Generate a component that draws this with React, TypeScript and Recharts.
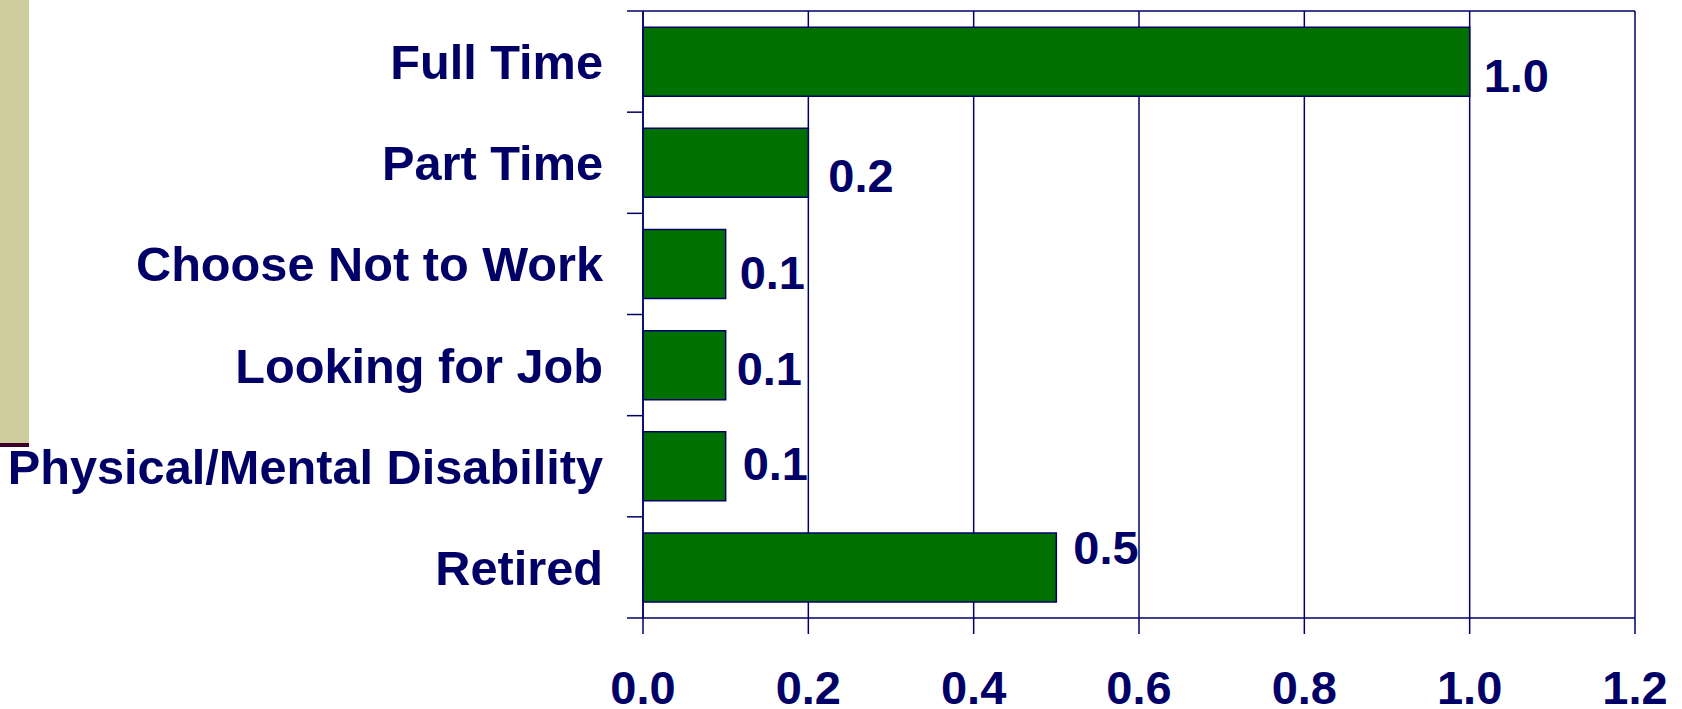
import { BarChart, Bar, XAxis, YAxis, CartesianGrid, LabelList } from "recharts";

const categories = [
  "Full Time",
  "Part Time",
  "Choose Not to Work",
  "Looking for Job",
  "Physical/Mental Disability",
  "Retired",
];
const values = [1.0, 0.2, 0.1, 0.1, 0.1, 0.5];
const xTicks = [0, 0.2, 0.4, 0.6, 0.8, 1.0, 1.2];

const data = categories.map((name, i) => ({ name, value: values[i] }));

// layout
const W = 1682;
const H = 709;
const M_TOP = 11;
const M_RIGHT = 47;
const Y_AXIS_W = 643;
const X_AXIS_H = 91;
const PLOT_W = W - Y_AXIS_W - M_RIGHT;
const PLOT_H = H - M_TOP - X_AXIS_H;
const HALF_BAND = PLOT_H / categories.length / 2;

const NAVY = "#000066";
const GREEN = "#007000";
const FONT = "'Liberation Sans', Arial, sans-serif";

// hand-placed value labels in the original drift a little per row
const LABEL_DX = [14, 20, 14, 11, 17, 17];
const LABEL_DY = [13, 12, 8, 3, -3, -20];

function CategoryTick(props: any) {
  const { x, y, payload, index } = props;
  const last = index === categories.length - 1;
  const fs = 48.7;
  return (
    <g>
      <text
        x={x - 40}
        y={y + fs * 0.358}
        textAnchor="end"
        fill={NAVY}
        fontSize={fs}
        fontWeight="bold"
        fontFamily={FONT}
      >
        {payload.value}
      </text>
      {index === 0 ? (
        <line x1={x - 16} x2={x + PLOT_W} y1={y - HALF_BAND} y2={y - HALF_BAND} stroke={NAVY} strokeWidth={1.5} />
      ) : (
        <line x1={x - 16} x2={x} y1={y - HALF_BAND} y2={y - HALF_BAND} stroke={NAVY} strokeWidth={1.5} />
      )}
      {last && (
        <line x1={x - 16} x2={x} y1={y + HALF_BAND} y2={y + HALF_BAND} stroke={NAVY} strokeWidth={1.5} />
      )}
    </g>
  );
}

function ValueLabel(props: any) {
  const { x, y, width, height, value, index } = props;
  const fs = 47;
  return (
    <text
      x={x + width + LABEL_DX[index]}
      y={y + height / 2 + LABEL_DY[index] + fs * 0.358}
      fill={NAVY}
      fontSize={fs}
      fontWeight="bold"
      fontFamily={FONT}
    >
      {Number(value).toFixed(1)}
    </text>
  );
}

export default function App() {
  return (
    <div style={{ position: "absolute", left: 0, top: 0, width: W, height: H, background: "#ffffff" }}>
      <div style={{ position: "absolute", left: 0, top: 0, width: 29, height: 443, background: "#cecc9c" }} />
      <div style={{ position: "absolute", left: 0, top: 443, width: 29, height: 4, background: "#3c0028" }} />
      <div style={{ position: "absolute", left: 0, top: 0 }}>
        <BarChart
          width={W}
          height={H}
          data={data}
          layout="vertical"
          margin={{ top: M_TOP, right: M_RIGHT, bottom: 0, left: 0 }}
          barCategoryGap="16%"
        >
          <CartesianGrid horizontal={false} stroke={NAVY} strokeWidth={1.5} />
          <XAxis
            type="number"
            domain={[0, 1.2]}
            ticks={xTicks}
            tickFormatter={(v: number) => v.toFixed(1)}
            height={X_AXIS_H}
            tickSize={16}
            tickMargin={37}
            axisLine={{ stroke: NAVY, strokeWidth: 1.5 }}
            tickLine={{ stroke: NAVY, strokeWidth: 1.5 }}
            tick={{ fill: NAVY, fontSize: 47, fontWeight: "bold", fontFamily: FONT }}
            interval={0}
          />
          <YAxis
            type="category"
            dataKey="name"
            width={Y_AXIS_W}
            tickSize={0}
            tickMargin={0}
            tickLine={false}
            axisLine={{ stroke: NAVY, strokeWidth: 1.5 }}
            tick={<CategoryTick />}
            interval={0}
          />
          <Bar dataKey="value" fill={GREEN} stroke={NAVY} strokeWidth={1.5} isAnimationActive={false}>
            <LabelList dataKey="value" content={<ValueLabel />} />
          </Bar>
        </BarChart>
      </div>
    </div>
  );
}
